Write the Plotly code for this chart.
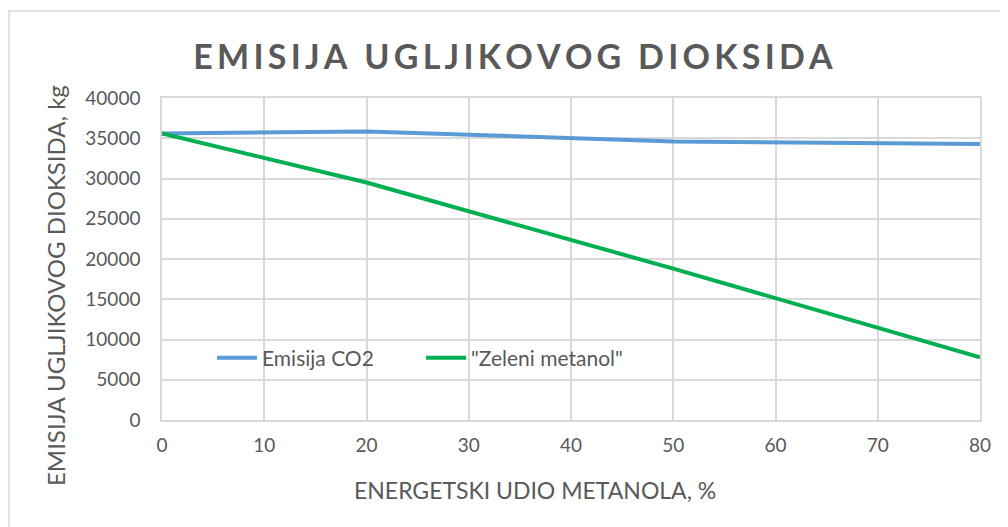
import plotly.graph_objects as go

x_vals = [0, 20, 50, 80]
emisija_co2 = [35600, 35850, 34600, 34300]
zeleni_metanol = [35600, 29500, 18800, 7800]

x_ticks = [0, 10, 20, 30, 40, 50, 60, 70, 80]
y_ticks = [0, 5000, 10000, 15000, 20000, 25000, 30000, 35000, 40000]

title_text = "EMISIJA UGLJIKOVOG DIOKSIDA"
x_title = "ENERGETSKI UDIO METANOLA, %"
y_title = "EMISIJA UGLJIKOVOG DIOKSIDA, kg"

FONT = "Lato"
GRAY = "#595959"
GRID = "#d9d9d9"

# plot area in window pixels (page body has an 8px offset)
PX0, PX1, PY0, PY1 = 162, 980, 98, 420
OFF = 8
W, H = 1008, 527
PW, PH = PX1 - PX0, PY1 - PY0


def px(xp):
    return (xp - PX0) / PW


def py(yp):
    return (PY1 - yp) / PH


fig = go.Figure()
fig.add_trace(go.Scatter(x=x_vals, y=emisija_co2, mode="lines", name="Emisija CO2",
                         line=dict(color="#5B9BD5", width=4)))
fig.add_trace(go.Scatter(x=x_vals, y=zeleni_metanol, mode="lines", name="\"Zeleni metanol\"",
                         line=dict(color="#00B050", width=4)))

spaced_title = "\u2009".join(list(title_text))

fig.update_layout(
    width=W, height=H,
    margin=dict(l=PX0 - OFF, r=W - (PX1 - OFF), t=PY0 - OFF, b=H - (PY1 - OFF), autoexpand=False),
    paper_bgcolor="white", plot_bgcolor="white",
    font=dict(family=FONT, color=GRAY, size=19),
    title=dict(text="<b>" + spaced_title + "</b>", x=(513 - OFF) / W, xanchor="center",
               y=1 - (57 - OFF) / H, yanchor="middle",
               font=dict(family=FONT, size=34, color=GRAY)),
    showlegend=True,
    legend=dict(orientation="h", x=px(212), y=py(358), xanchor="left", yanchor="middle",
                bgcolor="rgba(0,0,0,0)", font=dict(size=21, color=GRAY),
                itemwidth=40, tracegroupgap=0, entrywidth=154, entrywidthmode="pixels"),
    xaxis=dict(range=[0, 80], tickvals=x_ticks, ticktext=[str(v) for v in x_ticks],
               showgrid=True, gridcolor=GRID, gridwidth=1.5, automargin=False,
               zeroline=False, showline=True, linecolor=GRID, linewidth=1.5,
               ticks="outside", ticklen=7, tickcolor="rgba(0,0,0,0)",
               tickfont=dict(size=19, color=GRAY), mirror=True),
    yaxis=dict(range=[0, 40000], tickvals=y_ticks, ticktext=[str(v) for v in y_ticks],
               showgrid=True, gridcolor=GRID, gridwidth=1.5, automargin=False,
               zeroline=False, showline=True, linecolor=GRID, linewidth=1.5,
               ticks="outside", ticklen=16, tickcolor="rgba(0,0,0,0)",
               tickfont=dict(size=19, color=GRAY), mirror=True),
    annotations=[
        dict(text=x_title, xref="paper", yref="paper", x=px(535), y=py(490),
             xanchor="center", yanchor="middle", showarrow=False,
             font=dict(size=23, color=GRAY, family=FONT)),
        dict(text=y_title, xref="paper", yref="paper", x=px(55), y=py(286),
             xanchor="center", yanchor="middle", showarrow=False, textangle=-90,
             font=dict(size=24, color=GRAY, family=FONT)),
    ],
    shapes=[dict(type="rect", xref="paper", yref="paper",
                 x0=px(9), x1=px(1040), y0=py(560), y1=py(11),
                 line=dict(color="#d9d9d9", width=1.5), fillcolor="rgba(0,0,0,0)",
                 layer="below")],
)

fig.write_html("out.html")
